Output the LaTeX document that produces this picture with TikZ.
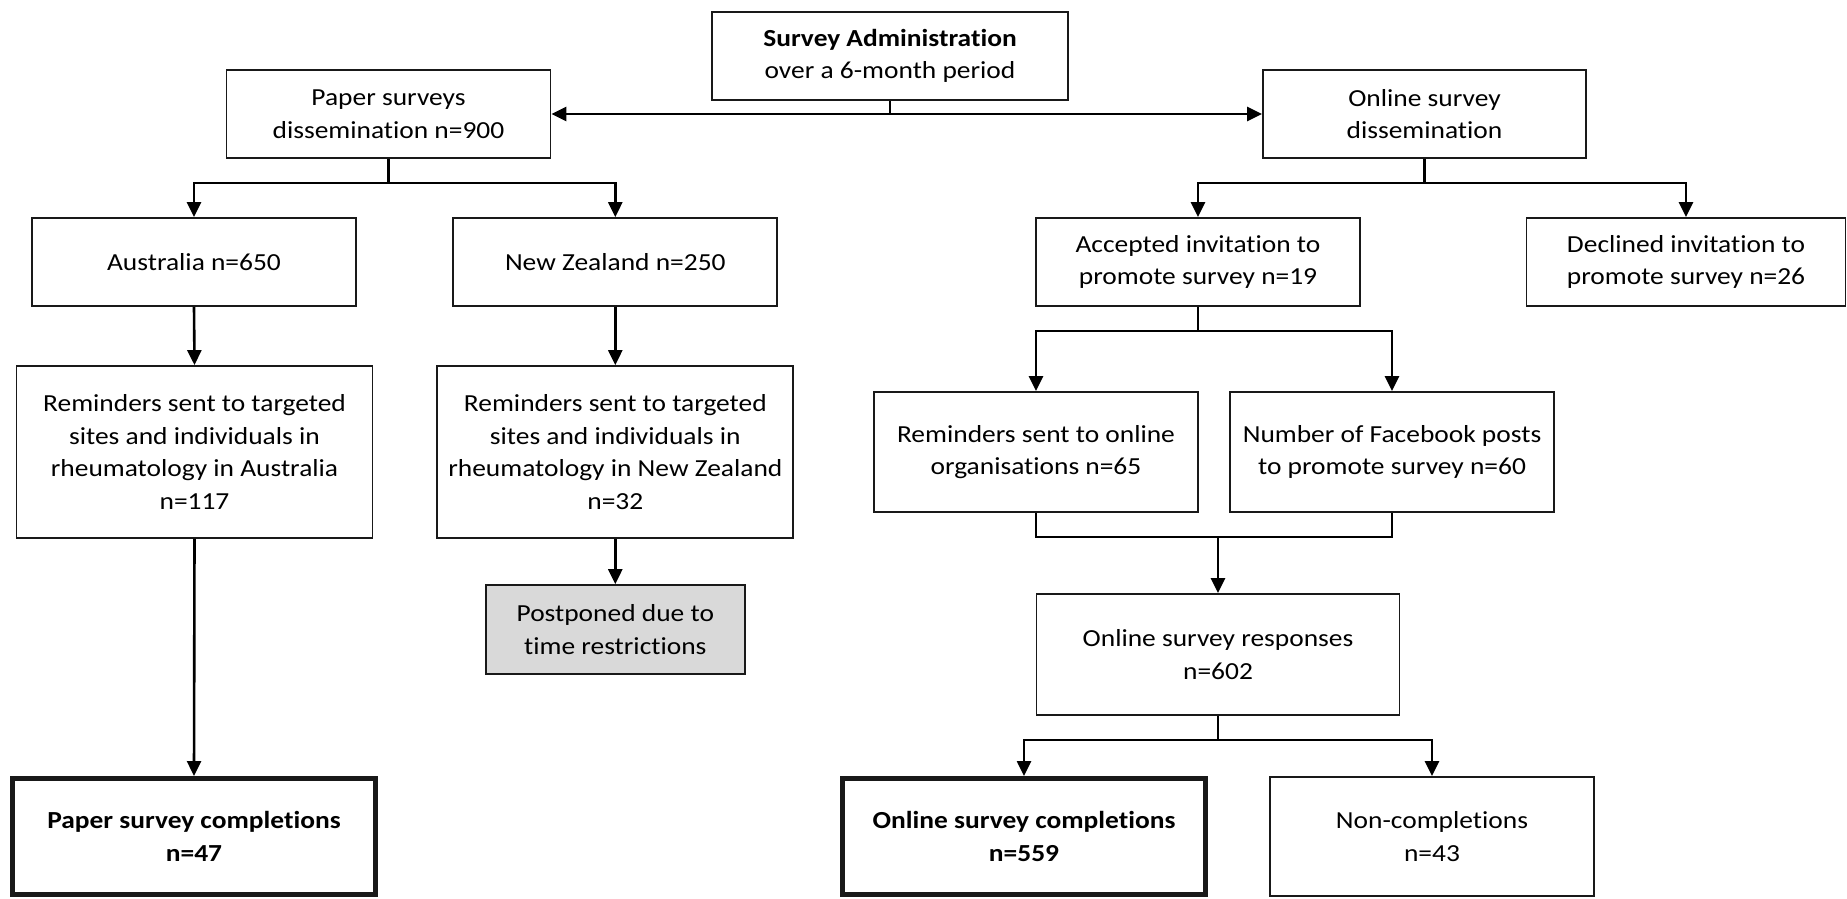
\documentclass[tikz,border=0pt]{standalone}
\usepackage{fontspec}
\setmainfont[FakeStretch=1.12, Ligatures=NoCommon]{Carlito}
\usetikzlibrary{arrows.meta,calc}
\tikzset{
  box/.style={draw=black!90, line width=1.8pt, fill=white, align=center,
    inner sep=0pt, font=\fontsize{24.5}{32.5}\selectfont},
  finalbox/.style={box, line width=5pt, font=\fontsize{24.5}{32.5}\selectfont\bfseries},
  greybox/.style={box, fill=black!15},
  link/.style={line width=2.6pt, draw=black},
  arr/.style={link, -{Triangle[length=15pt,width=14pt]}}
}
\begin{document}
\begin{tikzpicture}[x=1pt,y=-1pt]
\useasboundingbox[fill=white] (0,0) rectangle (1847,898);

% top level
\node[box, minimum width=356, minimum height=88] (admin) at (890,56)
  {\textbf{Survey Administration}\\over a 6-month period};
\node[box, minimum width=324, minimum height=88] (paper) at (388.5,114)
  {Paper surveys\\dissemination n=900};
\node[box, minimum width=323, minimum height=88] (online) at (1424.5,114)
  {Online survey\\dissemination};

% paper branch
\node[box, minimum width=324, minimum height=88] (aus) at (194,262)
  {Australia n=650};
\node[box, minimum width=324, minimum height=88] (nz) at (615.3,262)
  {New Zealand n=250};
\node[box, minimum width=356, minimum height=172] (remau) at (194.5,452)
  {Reminders sent to targeted\\sites and individuals in\\rheumatology in Australia\\n=117};
\node[box, minimum width=356, minimum height=172] (remnz) at (615.3,452)
  {Reminders sent to targeted\\sites and individuals in\\rheumatology in New Zealand\\n=32};
\node[greybox, minimum width=259, minimum height=89] (postponed) at (615.3,629.5)
  {Postponed due to\\time restrictions};
\node[finalbox, minimum width=363, minimum height=116] (papercomp) at (194,836.5)
  {Paper survey completions\\n=47};

% online branch
\node[box, minimum width=324, minimum height=88] (accepted) at (1198,262)
  {Accepted invitation to\\promote survey n=19};
\node[box, minimum width=319, minimum height=88] (declined) at (1686,262)
  {Declined invitation to\\promote survey n=26};
\node[box, minimum width=324, minimum height=120] (remonline) at (1036,452)
  {Reminders sent to online\\organisations n=65};
\node[box, minimum width=324, minimum height=120] (facebook) at (1392,452)
  {Number of Facebook posts\\to promote survey n=60};
\node[box, minimum width=363, minimum height=121] (responses) at (1218,654.5)
  {Online survey responses\\n=602};
\node[finalbox, minimum width=363, minimum height=116] (onlinecomp) at (1024,836.5)
  {Online survey completions\\n=559};
\node[box, minimum width=324, minimum height=119] (noncomp) at (1432,836.5)
  {Non-completions\\n=43};

% connectors: administration split
\coordinate (hub) at (admin.south |- paper.east);
\draw[link] (admin.south) -- (hub);
\draw[arr] (hub) -- (paper.east);
\draw[arr] (hub) -- (online.west);

% paper split
\coordinate (ps) at ($(paper.south)+(0,24)$);
\draw[link] (paper.south) -- (ps);
\draw[arr] (ps) -| (aus.north);
\draw[arr] (ps) -| (nz.north);
\draw[arr] (aus.south) -- (remau.north);
\draw[arr] (nz.south) -- (remnz.north);
\draw[arr] (remau.south) -- (papercomp.north);
\draw[arr] (remnz.south) -- (postponed.north);

% online split
\coordinate (os) at ($(online.south)+(0,24)$);
\draw[link] (online.south) -- (os);
\draw[arr] (os) -| (accepted.north);
\draw[arr] (os) -| (declined.north);

\coordinate (as) at ($(accepted.south)+(0,24)$);
\draw[link] (accepted.south) -- (as);
\draw[arr] (as) -| (remonline.north);
\draw[arr] (as) -| (facebook.north);

% merge into responses
\coordinate (mg) at ($(remonline.south)+(0,24)$);
\draw[link] (remonline.south) -- (mg) -| (facebook.south);
\draw[arr] (mg -| responses.north) -- (responses.north);

\coordinate (rs) at ($(responses.south)+(0,24)$);
\draw[link] (responses.south) -- (rs);
\draw[arr] (rs) -| (onlinecomp.north);
\draw[arr] (rs) -| (noncomp.north);
\end{tikzpicture}
\end{document}
